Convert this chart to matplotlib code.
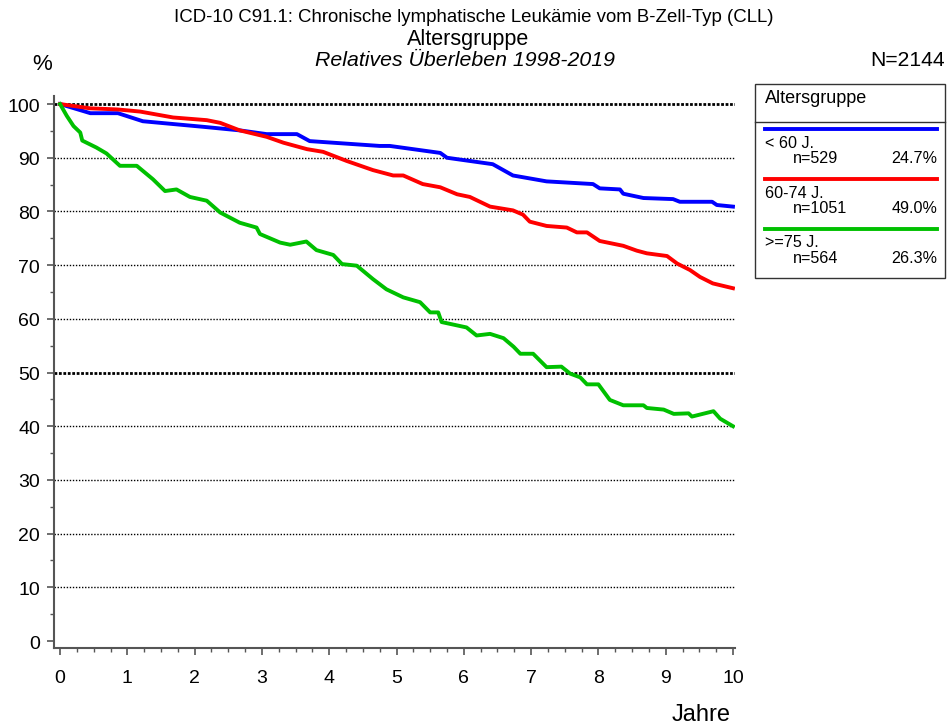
import matplotlib
matplotlib.use("Agg")
import matplotlib.pyplot as plt
from matplotlib.ticker import MultipleLocator
from matplotlib.patches import Rectangle
from matplotlib.lines import Line2D
from matplotlib.transforms import ScaledTranslation

plt.rcParams['font.family'] = ['Liberation Sans', 'DejaVu Sans']

# ---- data ----
t_lt60 = [0, 0.45, 0.86, 1.23, 2.18, 2.67, 3.07, 3.52, 3.71, 4.75, 4.9, 5.65, 5.75,
          6.43, 6.73, 7.23, 7.92, 8.02, 8.32, 8.37, 8.67, 9.11, 9.21, 9.69, 9.76, 10.0]
v_lt60 = [100, 98.3, 98.3, 96.8, 95.7, 95.1, 94.4, 94.4, 93.1, 92.2, 92.2, 90.9, 90.0,
          88.8, 86.7, 85.6, 85.1, 84.3, 84.1, 83.3, 82.5, 82.3, 81.8, 81.8, 81.2, 80.9]

t_6074 = [0, 0.45, 0.85, 1.19, 1.68, 2.18, 2.38, 2.67, 3.07, 3.32, 3.67, 3.91, 4.26,
          4.65, 4.95, 5.1, 5.39, 5.65, 5.9, 6.09, 6.39, 6.73, 6.88, 6.98, 7.23, 7.53,
          7.68, 7.83, 8.02, 8.37, 8.57, 8.72, 9.02, 9.17, 9.36, 9.51, 9.7, 10.0]
v_6074 = [100, 99.2, 99.0, 98.6, 97.5, 97.0, 96.5, 95.1, 93.9, 92.8, 91.6, 91.1, 89.4,
          87.7, 86.7, 86.7, 85.1, 84.5, 83.2, 82.7, 80.9, 80.2, 79.4, 78.1, 77.3, 77.0,
          76.1, 76.1, 74.5, 73.6, 72.7, 72.2, 71.7, 70.3, 69.1, 67.8, 66.6, 65.7]

t_ge75 = [0, 0.1, 0.2, 0.3, 0.33, 0.54, 0.69, 0.89, 1.14, 1.38, 1.56, 1.73, 1.93,
          2.18, 2.38, 2.67, 2.92, 2.97, 3.27, 3.42, 3.66, 3.81, 4.06, 4.19, 4.41,
          4.65, 4.85, 5.1, 5.35, 5.5, 5.62, 5.67, 6.04, 6.19, 6.39, 6.59, 6.74, 6.84,
          7.03, 7.23, 7.45, 7.58, 7.73, 7.83, 8.0, 8.17, 8.37, 8.67, 8.72, 8.97, 9.12,
          9.34, 9.39, 9.71, 9.81, 10.0]
v_ge75 = [100, 97.8, 95.9, 94.7, 93.2, 91.9, 90.8, 88.5, 88.5, 86.0, 83.8, 84.1, 82.7,
          82.0, 79.8, 77.9, 77.0, 75.8, 74.2, 73.8, 74.4, 72.8, 71.9, 70.2, 69.9,
          67.4, 65.5, 64.0, 63.1, 61.2, 61.2, 59.4, 58.4, 56.9, 57.2, 56.4, 54.8, 53.5,
          53.5, 51.0, 51.1, 49.8, 49.1, 47.8, 47.8, 44.9, 43.9, 43.9, 43.4, 43.1, 42.3,
          42.4, 41.8, 42.8, 41.4, 40.0]

groups = ["< 60 J.", "60-74 J.", ">=75 J."]
n_vals = ["n=529", "n=1051", "n=564"]
pct_vals = ["24.7%", "49.0%", "26.3%"]
colors = ["#0000FF", "#FF0000", "#00C000"]
x_ticks = list(range(0, 11))
y_ticks = list(range(0, 101, 10))

W, H = 948, 728
fig = plt.figure(figsize=(W / 100, H / 100), dpi=100)

def fx(px):
    return px / W

def fy(py):
    return 1 - py / H

ax = fig.add_axes([fx(54), fy(648), fx(735) - fx(54), fy(96) - fy(648)])
ax.set_xlim(-0.09, 10.03)
ax.set_ylim(-1.3, 101.5)

# grid lines
for y in y_ticks[1:]:
    bold = y in (50, 100)
    ax.axhline(y, color="black", lw=2.0 if bold else 1.0,
               dashes=(1, 0.6) if bold else (1, 1.2), zorder=1)

series = [(t_lt60, v_lt60), (t_6074, v_6074), (t_ge75, v_ge75)]
for (t, v), c in zip(series, colors):
    ax.plot(t, v, color=c, lw=2.8, solid_joinstyle="round", zorder=3)

for s in ("top", "right"):
    ax.spines[s].set_visible(False)
for s in ("left", "bottom"):
    ax.spines[s].set_color("#555555")
    ax.spines[s].set_linewidth(1.5)

ax.set_xticks(x_ticks)
ax.set_yticks(y_ticks)
ax.xaxis.set_minor_locator(MultipleLocator(0.25))
ax.yaxis.set_minor_locator(MultipleLocator(5))
ax.tick_params(axis="both", which="major", direction="out", length=5, width=1.2,
               color="#555555", labelsize=14, pad=5)
ax.tick_params(axis="both", which="minor", direction="out", length=3, width=1.0,
               color="#555555")
ax.tick_params(axis="x", which="major", pad=11)
shift = ScaledTranslation(0, -3 / 100, fig.dpi_scale_trans)
for lab in ax.get_yticklabels():
    lab.set_verticalalignment("center")
    lab.set_transform(lab.get_transform() + shift)

# titles
fig.text(fx(474), fy(18), "ICD-10 C91.1: Chronische lymphatische Leukämie vom B-Zell-Typ (CLL)",
         ha="center", va="center", fontsize=13.4)
fig.text(fx(468), fy(39), "Altersgruppe", ha="center", va="center", fontsize=15.5)
fig.text(fx(465), fy(61), "Relatives Überleben 1998-2019", ha="center", va="center",
         fontsize=15.3, style="italic")
fig.text(fx(42), fy(64), "%", ha="center", va="center", fontsize=16)
fig.text(fx(945), fy(61), "N=2144", ha="right", va="center", fontsize=15.2)
fig.text(fx(701), fy(715), "Jahre", ha="center", va="center", fontsize=17)

# legend box
fig.patches.append(Rectangle((fx(755), fy(278)), fx(945) - fx(755), fy(84) - fy(278),
                             transform=fig.transFigure, fill=False, edgecolor="#333333",
                             lw=1.0))
fig.lines.append(Line2D([fx(755), fx(945)], [fy(121.5), fy(121.5)],
                        transform=fig.transFigure, color="#333333", lw=1.0))
fig.text(fx(765), fy(98.5), "Altersgruppe", ha="left", va="center", fontsize=13)
for i, (g, n, p, c) in enumerate(zip(groups, n_vals, pct_vals, colors)):
    y0 = 128.5 + 50 * i
    fig.lines.append(Line2D([fx(765), fx(937)], [fy(y0), fy(y0)],
                            transform=fig.transFigure, color=c, lw=2.8))
    fig.text(fx(765), fy(y0 + 14.5), g, ha="left", va="center", fontsize=11.6)
    fig.text(fx(793), fy(y0 + 30), n, ha="left", va="center", fontsize=11.6)
    fig.text(fx(937), fy(y0 + 30), p, ha="right", va="center", fontsize=11.6)

fig.savefig("out.png", dpi=100)
